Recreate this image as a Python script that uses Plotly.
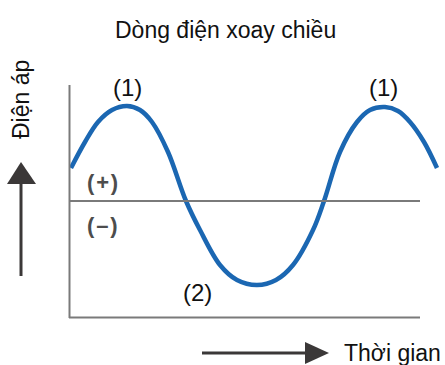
import plotly.graph_objects as go

# curve (time units, voltage units)
time = [0.1, 1.5, 2.8, 4.2, 5.7, 7.0, 8.2, 9.8, 11.6, 13.0, 15.0, 16.7, 18.7,
        20.6, 22.3, 24.3, 25.4, 27.0, 28.7, 30.0, 31.5, 32.8, 34.0, 35.4, 36.7]
voltage = [3.3, 5.9, 7.9, 9.1, 9.5, 9.1, 7.9, 4.9, 0.0, -2.9, -6.4, -7.9, -8.4,
           -7.9, -6.4, -2.9, 0.0, 4.9, 7.9, 9.1, 9.4, 9.0, 7.9, 5.9, 3.3]

title = "Dòng điện xoay chiều"
y_label = "Điện áp"
x_label = "Thời gian"
peak_labels = ["(1)", "(1)"]
peak_times = [5.7, 31.3]
trough_label = "(2)"
sign_labels = ["(\u200a+\u200a)", "(\u200a\u2013\u200a)"]

W, H = 445, 365
FONT = "Arial, Liberation Sans, sans-serif"
GRAY = "#7a7a7a"
DARK = "#3b3838"


# pixel -> axis units (axes are stretched over the whole canvas)
def tx(px):
    return (px - 70) / 10


def vy(py):
    return (201 - py) / 10


fig = go.Figure()
fig.add_trace(go.Scatter(
    x=time, y=voltage, mode="lines",
    line=dict(color="#1b67b2", width=4.5, shape="spline", smoothing=1.0),
    hoverinfo="skip"))

shapes = [
    # axes
    dict(type="line", x0=tx(69.5), x1=tx(69.5), y0=vy(85), y1=vy(318),
         line=dict(color=GRAY, width=2)),
    dict(type="line", x0=tx(69), x1=tx(420), y0=0, y1=0,
         line=dict(color=GRAY, width=2)),
    dict(type="line", x0=tx(69), x1=tx(420), y0=vy(317.5), y1=vy(317.5),
         line=dict(color=GRAY, width=2)),
    # up arrow
    dict(type="line", x0=tx(21), x1=tx(21), y0=vy(276), y1=vy(182),
         line=dict(color=DARK, width=3)),
    dict(type="path",
         path=f"M {tx(7)},{vy(184)} L {tx(21)},{vy(162)} L {tx(36)},{vy(184)} Z",
         fillcolor=DARK, line=dict(color=DARK, width=0)),
    # right arrow
    dict(type="line", x0=tx(202), x1=tx(307), y0=vy(353), y1=vy(353),
         line=dict(color=DARK, width=3)),
    dict(type="path",
         path=f"M {tx(305)},{vy(342)} L {tx(329)},{vy(353)} L {tx(305)},{vy(364)} Z",
         fillcolor=DARK, line=dict(color=DARK, width=0)),
]

sign_font = dict(size=22, color="#4d4d4d")
annotations = [
    dict(x=tx(225), y=vy(30), text=title, showarrow=False,
         font=dict(size=23, color="#111111")),
    dict(x=tx(21), y=vy(100), text=y_label, showarrow=False, textangle=-90,
         font=dict(size=23, color="#111111")),
    dict(x=tx(443), y=vy(353), text=x_label, showarrow=False, xanchor="right",
         font=dict(size=23, color="#111111")),
    dict(x=tx(197), y=vy(292), text=trough_label, showarrow=False,
         font=dict(size=24, color="#111111")),
    dict(x=tx(102), y=vy(182.5), text="<b>" + sign_labels[0] + "</b>",
         showarrow=False, font=sign_font),
    dict(x=tx(102), y=vy(225), text="<b>" + sign_labels[1] + "</b>",
         showarrow=False, font=sign_font),
]
for t, lab in zip(peak_times, peak_labels):
    annotations.append(dict(x=t, y=vy(87), text=lab, showarrow=False,
                            font=dict(size=24, color="#111111")))

fig.update_layout(
    width=W, height=H, autosize=False,
    margin=dict(l=0, r=0, t=0, b=0),
    paper_bgcolor="white", plot_bgcolor="white",
    showlegend=False,
    font=dict(family=FONT),
    xaxis=dict(range=[tx(0), tx(W)], visible=False, fixedrange=True),
    yaxis=dict(range=[vy(H), vy(0)], visible=False, fixedrange=True),
    shapes=shapes,
    annotations=annotations,
)

fig.write_html("out.html", config={"displayModeBar": False},
               post_script="document.body.style.margin='0';")
